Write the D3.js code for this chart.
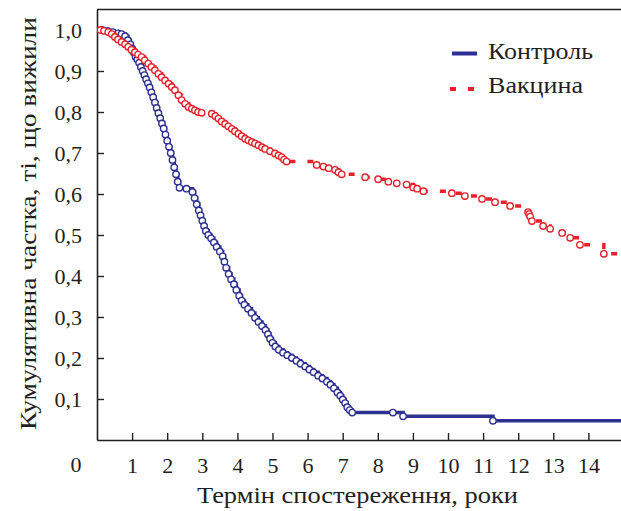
<!DOCTYPE html>
<html>
<head>
<meta charset="utf-8">
<script src="https://cdn.jsdelivr.net/npm/d3@7"></script>
<style>
  html, body { margin: 0; padding: 0; background: #ffffff; }
  svg { display: block; }
  svg text { fill: #231f20; }
</style>
</head>
<body>
<svg id="chart" width="621" height="511"></svg>
<script>
// ---- data ----
const controlTimes = [0,0.15,0.3,0.45,0.6,0.7,0.8,0.88,0.95,1.0,1.05,1.1,1.15,1.2,1.25,1.3,1.35,1.4,1.45,1.5,
  1.55,1.6,1.65,1.7,1.75,1.8,1.85,1.9,1.95,2.0,2.05,2.1,2.15,2.2,2.25,2.3,2.35,2.55,2.72,2.78,2.84,2.9,2.95,
  3.0,3.05,3.1,3.17,3.25,3.33,3.41,3.5,3.58,3.63,3.68,3.75,3.82,3.9,3.97,4.05,4.12,4.2,4.3,4.4,4.5,4.6,4.7,
  4.8,4.87,4.93,5.0,5.08,5.18,5.3,5.42,5.55,5.68,5.8,5.93,6.05,6.17,6.3,6.42,6.55,6.65,6.75,6.85,6.93,7.0,
  7.07,7.13,7.2,7.27,8.43,8.72,11.28];
const controlValues = [1.0,1.0,0.998,0.995,0.992,0.99,0.985,0.975,0.965,0.955,0.945,0.935,0.928,0.92,0.91,0.9,0.89,0.88,0.87,0.86,
  0.848,0.836,0.823,0.81,0.797,0.785,0.772,0.76,0.745,0.73,0.715,0.7,0.683,0.665,0.648,0.63,0.615,0.613,0.605,0.59,0.575,0.56,0.548,
  0.535,0.522,0.51,0.5,0.492,0.482,0.471,0.46,0.448,0.435,0.42,0.405,0.392,0.38,0.366,0.352,0.34,0.33,0.32,0.31,0.298,0.288,0.278,
  0.268,0.258,0.247,0.237,0.228,0.22,0.213,0.207,0.2,0.193,0.186,0.179,0.172,0.165,0.157,0.15,0.142,0.135,0.126,0.116,0.108,0.099,
  0.09,0.08,0.073,0.067,0.067,0.058,0.047];

const vaccineTimes = [0,0.1,0.2,0.32,0.42,0.51,0.6,0.7,0.8,0.89,0.98,1.08,1.17,1.27,1.36,1.46,1.55,1.65,1.75,1.84,1.94,
  2.04,2.13,2.22,2.32,2.41,2.51,2.61,2.7,2.79,2.88,2.98,3.27,3.37,3.46,3.55,3.65,3.74,3.84,3.93,4.03,4.12,4.22,4.31,
  4.41,4.5,4.6,4.7,4.79,4.93,5.07,5.17,5.26,5.33,5.4,6.26,6.45,6.6,6.78,6.88,6.97,7.64,8.01,8.3,8.54,8.82,9.01,9.12,
  9.3,10.11,10.48,10.97,11.34,11.77,12.28,12.31,12.34,12.39,12.71,12.91,13.25,13.48,13.76,14.44];
const vaccineValues = [1.0,1.0,0.998,0.995,0.99,0.983,0.977,0.971,0.965,0.959,0.952,0.946,0.94,0.934,0.926,0.918,0.91,0.902,0.893,0.885,0.877,
  0.869,0.861,0.853,0.841,0.829,0.82,0.812,0.808,0.804,0.8,0.798,0.796,0.79,0.784,0.777,0.771,0.765,0.759,0.753,0.747,0.741,0.735,0.731,
  0.727,0.723,0.719,0.714,0.71,0.704,0.699,0.694,0.69,0.684,0.679,0.671,0.667,0.663,0.659,0.653,0.648,0.641,0.636,0.63,0.626,0.623,0.616,0.613,
  0.607,0.602,0.595,0.588,0.58,0.571,0.556,0.551,0.545,0.534,0.522,0.515,0.505,0.493,0.476,0.454];

const seriesNames = ["Контроль", "Вакцина"];
const xTickValues = [1,2,3,4,5,6,7,8,9,10,11,12,13,14];
const yTickValues = [0.1,0.2,0.3,0.4,0.5,0.6,0.7,0.8,0.9,1.0];
const xTitle = "Термін спостереження, роки";
const yTitle = "Кумулятивна частка, ті, що вижили";
const xMax = 15;
const yMax = 1.05;

// ---- drawing ----
const FONT = '"Liberation Serif", "Times New Roman", "DejaVu Serif", serif';
const svg = d3.select("#chart").attr("font-family", FONT);
const ink = "#231f20";
const blue = "#2e3192";
const red = "#e6212b";

const x = d3.scaleLinear().domain([0, xMax]).range([97, 97 + xMax * 35.1]);
const y = d3.scaleLinear().domain([0, yMax]).range([440, 440 - yMax * 410]);

const fmt = v => d3.format(".1f")(v).replace(".", ",");

// axes
const xAxis = svg.append("g").attr("transform", "translate(0,440)")
  .call(d3.axisBottom(x).tickValues(xTickValues).tickFormat(d => d).tickSizeInner(-7).tickSizeOuter(0).tickPadding(17));
const yAxis = svg.append("g").attr("transform", "translate(97,0)")
  .call(d3.axisLeft(y).tickValues(yTickValues).tickFormat(fmt).tickSizeInner(-7).tickSizeOuter(0).tickPadding(15));
[xAxis, yAxis].forEach(g => {
  g.attr("font-family", FONT);
  g.selectAll("path.domain").attr("stroke", ink).attr("stroke-width", 1.6);
  g.selectAll(".tick line").attr("stroke", ink).attr("stroke-width", 1.4);
  g.selectAll(".tick text").attr("fill", ink).attr("font-size", 22);
});
// top frame line
svg.append("line").attr("x1", x(0)).attr("x2", x(xMax)).attr("y1", y(yMax)).attr("y2", y(yMax))
  .attr("stroke", ink).attr("stroke-width", 1.6);
// origin label
svg.append("text").attr("x", 76).attr("y", 472).attr("text-anchor", "middle")
  .attr("font-size", 22).text("0");

// titles
svg.append("text").attr("x", 197).attr("y", 503)
  .attr("font-size", 23).attr("textLength", 321).attr("lengthAdjust", "spacingAndGlyphs").text(xTitle);
svg.append("text").attr("transform", "translate(36,430) rotate(-90)")
  .attr("font-size", 24).attr("textLength", 413).attr("lengthAdjust", "spacingAndGlyphs").text(yTitle);

// curves
const plot = svg.append("g");
svg.append("clipPath").attr("id", "clip").append("rect")
  .attr("x", x(0)).attr("y", y(yMax)).attr("width", x(xMax) - x(0)).attr("height", y(0) - y(yMax));
plot.attr("clip-path", "url(#clip)");

const line = d3.line().x(d => x(d[0])).y(d => y(d[1])).curve(d3.curveStepAfter);

function drawSeries(times, values, color, dash) {
  const pts = times.map((t, i) => [t, values[i]]);
  const linePts = pts.concat([[xMax, values[values.length - 1]]]);
  plot.append("path").datum(linePts).attr("d", line)
    .attr("fill", "none").attr("stroke", color).attr("stroke-width", 3.5)
    .attr("stroke-dasharray", dash || null);
  plot.append("g").selectAll("circle").data(pts.slice(1)).join("circle")
    .attr("cx", d => x(d[0])).attr("cy", d => y(d[1])).attr("r", 3.2)
    .attr("fill", "#ffffff").attr("stroke", color).attr("stroke-width", 1.4);
}
drawSeries(controlTimes, controlValues, blue, null);
drawSeries(vaccineTimes, vaccineValues, red, "6,12");

// legend
const legend = svg.append("g");
legend.append("line").attr("x1", 452).attr("x2", 477).attr("y1", 53.5).attr("y2", 53.5)
  .attr("stroke", blue).attr("stroke-width", 4);
legend.append("text").attr("x", 488).attr("y", 59).attr("font-size", 23)
  .attr("textLength", 105).attr("lengthAdjust", "spacingAndGlyphs").text(seriesNames[0]);
legend.append("line").attr("x1", 450).attr("x2", 475).attr("y1", 89).attr("y2", 89)
  .attr("stroke", red).attr("stroke-width", 4).attr("stroke-dasharray", "6,12");
legend.append("text").attr("x", 488).attr("y", 93).attr("font-size", 23)
  .attr("textLength", 95).attr("lengthAdjust", "spacingAndGlyphs").text(seriesNames[1]);
</script>
</body>
</html>
